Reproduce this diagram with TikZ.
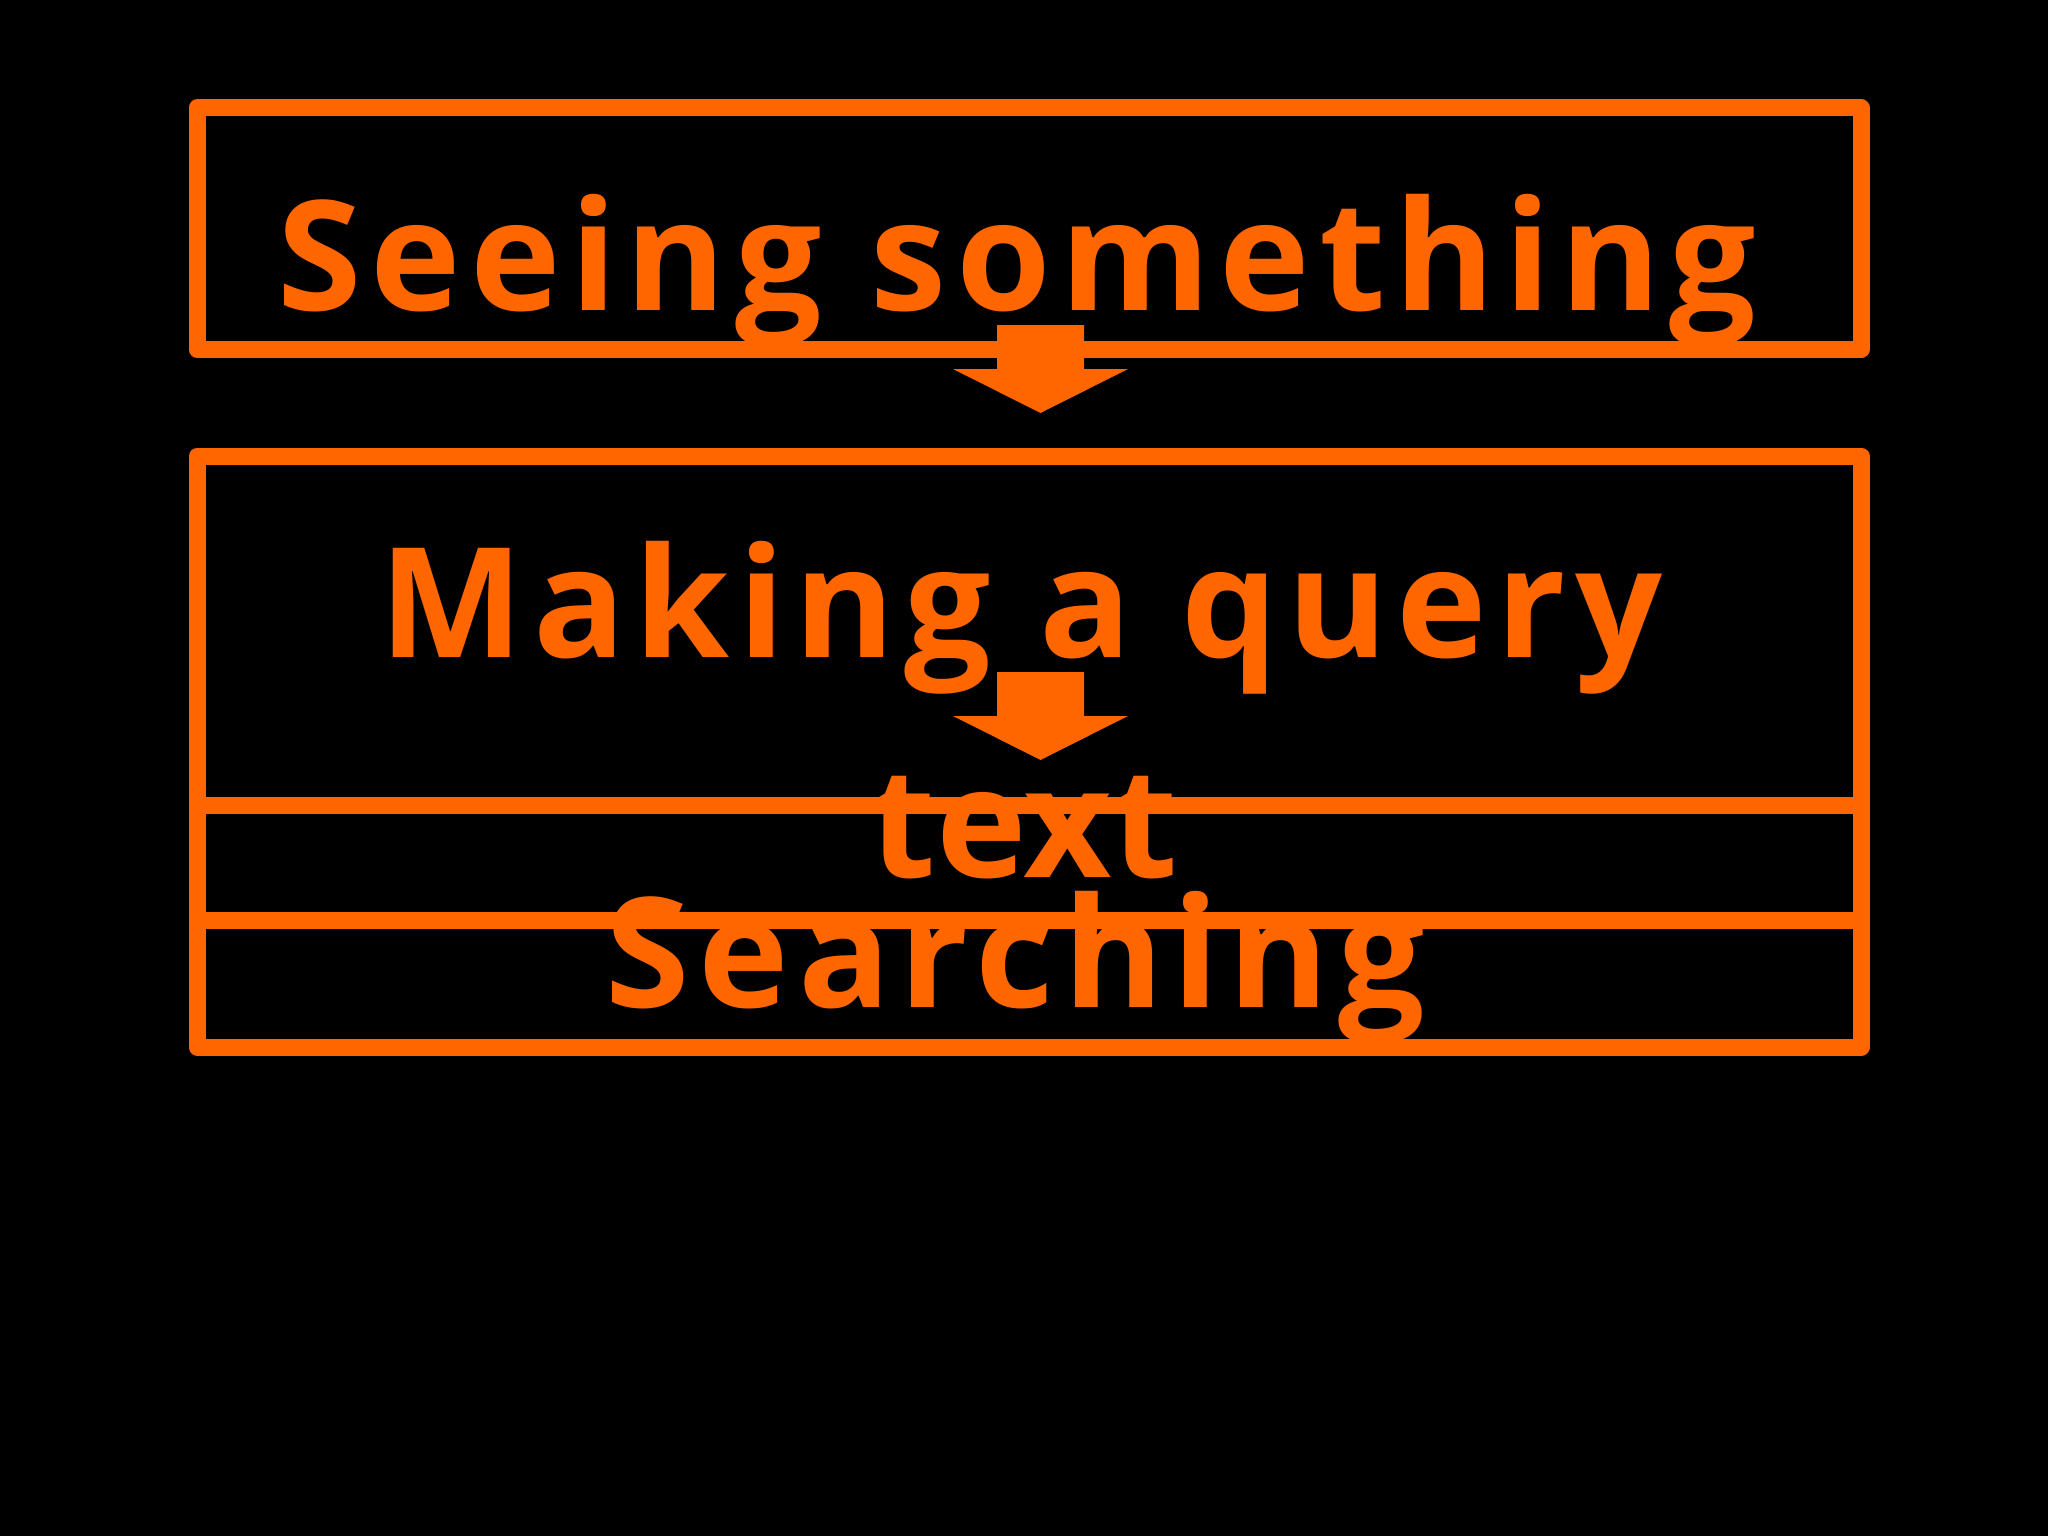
\documentclass[tikz,border=0pt]{standalone}
\usepackage{fontspec}
\setmainfont{Open Sans}
\newfontfamily\spacedA[LetterSpace=6]{Open Sans}
\definecolor{org}{RGB}{255,102,0}
\begin{document}
\begin{tikzpicture}[x=1pt,y=-1pt,
  boxline/.style={draw=org, line width=17pt, line join=round, rectangle, inner sep=0pt, outer sep=0pt},
  bigtext/.style={text=org, anchor=base, inner sep=0pt, font=\bfseries\fontsize{153}{165}\selectfont},
  blockarrow/.pic={\fill[org] (-43.5,0) -- (43.5,0) -- (43.5,44) -- (87.5,44) -- (0,88) -- (-87.5,44) -- (-43.5,44) -- cycle;}]
\fill[black] (0,0) rectangle (2048,1536);
\useasboundingbox (0,0) rectangle (2048,1536);
% boxes
\node[boxline, minimum width=1664pt, minimum height=241.5pt] (see) at (1029,228.75) {};
\node[boxline, minimum width=1664pt, minimum height=349pt] (query) at (1029,630.5) {};
\node[boxline, minimum width=1664pt, minimum height=115pt] (textrow) at (1029,862.5) {};
\node[boxline, minimum width=1664pt, minimum height=127pt] (search) at (1029,983.5) {};
% labels
\node[bigtext] (seeT) at (1017,310) {\spacedA\bfseries Seeing something};
\node[bigtext] (queryT) at (1021,657) {\spacedA\bfseries Making a query};
\node[bigtext] (textT) at (1024,877) {text};
\node[bigtext] (searchT) at (1015,1007) {\spacedA\bfseries Searching};
% block arrows
\pic at (1040.5,325) {blockarrow};
\pic at (1040.5,672) {blockarrow};
\end{tikzpicture}
\end{document}
